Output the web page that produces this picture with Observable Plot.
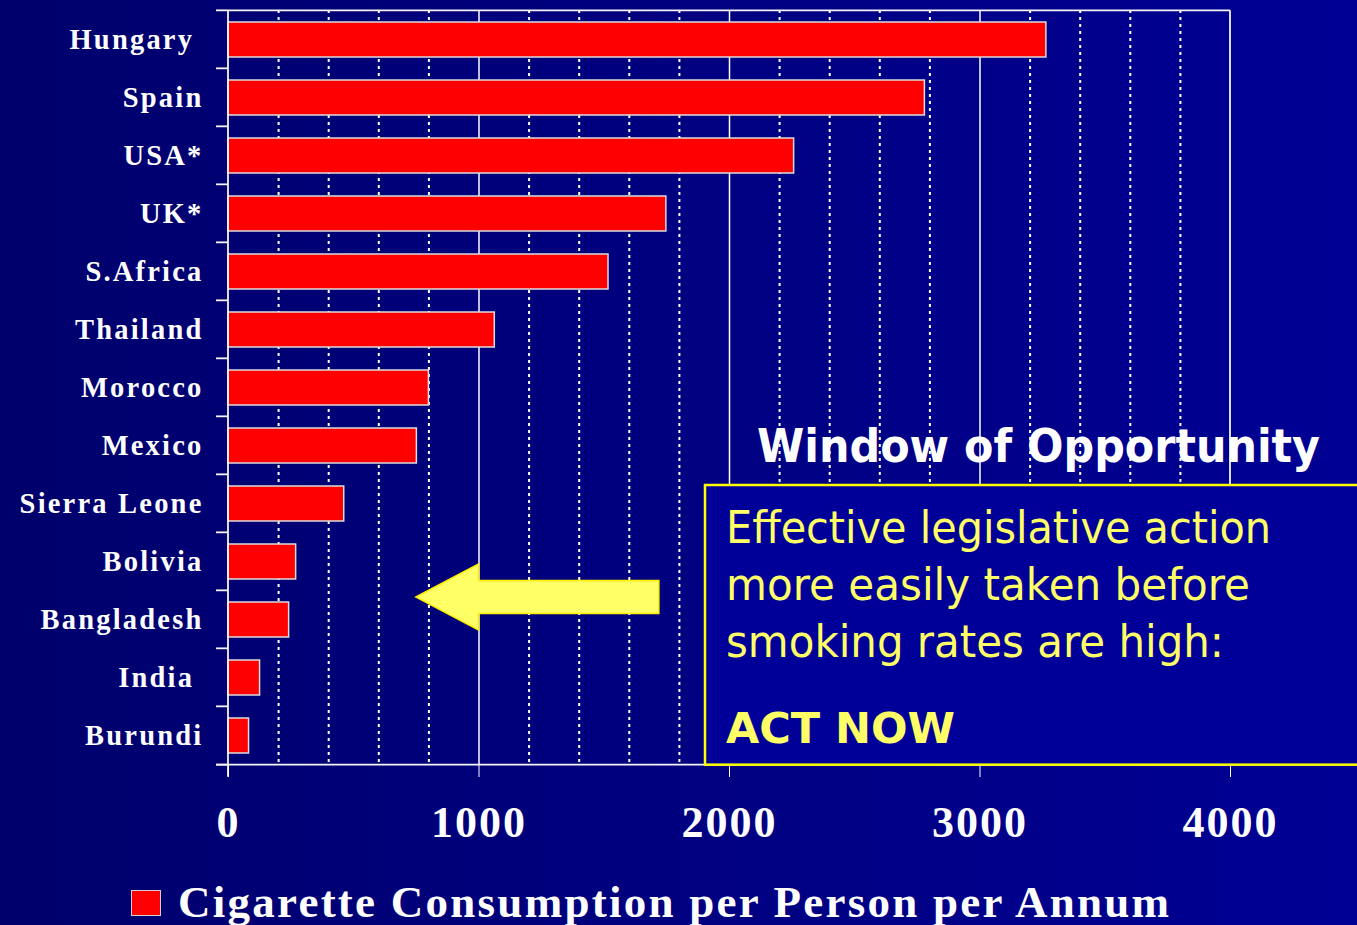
<!DOCTYPE html>
<html><head><meta charset="utf-8">
<script src="https://cdn.jsdelivr.net/npm/d3@7"></script>
<script src="https://cdn.jsdelivr.net/npm/@observablehq/plot@0.6"></script>
<style>
html,body{margin:0;padding:0;}
body{width:1357px;height:925px;overflow:hidden;background:linear-gradient(to right,#00006c,#000094);}
#chart svg{display:block;background:transparent;overflow:visible;}
#chart g[aria-label^="x-axis"] text{font-family:"Liberation Serif","Times New Roman",serif;font-weight:bold;font-size:44px;letter-spacing:2px;fill:#fff;}
#chart g[aria-label^="y-axis"] text{font-family:"Liberation Serif","Times New Roman",serif;font-weight:bold;font-size:28.5px;letter-spacing:2.2px;white-space:pre;fill:#fff;}
#legend{position:relative;height:55px;width:1357px;}
#legend .swatch{position:absolute;left:131px;top:20px;width:28px;height:24px;background:#ff0000;border:1px solid #d0d0d0;}
#legend .label{position:absolute;left:178px;top:10px;line-height:45px;font-family:"Liberation Serif","Times New Roman",serif;font-weight:bold;font-size:45px;letter-spacing:2.25px;color:#fff;white-space:nowrap;}
</style></head><body>
<div id="chart"></div>
<div id="legend"></div>
<script>
// ---- data ----
const countries = ["Hungary ", "Spain", "USA*", "UK*", "S.Africa", "Thailand", "Morocco", "Mexico", "Sierra Leone", "Bolivia", "Bangladesh", "India ", "Burundi"];
const consumption = [3265, 2780, 2258, 1748, 1517, 1063, 800, 752, 462, 270, 242, 126, 82];
const xTicks = [0, 1000, 2000, 3000, 4000];
const gridMajor = [1000, 2000, 3000];
const gridMinor = [200, 400, 600, 800, 1200, 1400, 1600, 1800, 2200, 2400, 2600, 2800, 3200, 3400, 3600, 3800];
const legendLabel = "Cigarette Consumption per Person per Annum";
const boxTitle = "Window of Opportunity";
const boxLines = ["Effective legislative action", "more easily taken before", "smoking rates are high:"];
const boxCall = "ACT NOW";
// arrow in data units along x (tip, head base, tail)
const arrowX = [750, 1000, 1720];

const table = countries.map((c, i) => ({country: c, value: consumption[i]}));

const plot = Plot.plot({
  width: 1357, height: 870,
  marginLeft: 228, marginRight: 127, marginTop: 10, marginBottom: 105,
  style: {background: "transparent", color: "white", overflow: "visible"},
  x: {domain: [0, 4000], ticks: xTicks, tickSize: 12, tickPadding: 28, tickFormat: d => String(d), label: null},
  y: {domain: countries, paddingInner: 0.4, paddingOuter: 0.2, tickSize: 0, tickPadding: 25, tickFormat: d => d, label: null},
  marks: [
    Plot.ruleX(gridMinor, {stroke: "white", strokeWidth: 2, strokeDasharray: "3,4"}),
    Plot.ruleX(gridMajor, {stroke: "white", strokeWidth: 1.5}),
    Plot.barX(table, {x: "value", y: "country", fill: "#ff0000", stroke: "#dcdcdc", strokeWidth: 1.5})
  ]
});
document.getElementById("chart").appendChild(plot);

// ---- frame, boundary ticks and annotations drawn with the plot's scales ----
const sx = plot.scale("x"), sy = plot.scale("y");
const X = v => sx.apply(v);
const bw = sy.bandwidth;
const step = bw / (1 - 0.4);
const gap = (step - bw) / 2;
const bounds = countries.map(c => sy.apply(c) - gap);
bounds.push(sy.apply(countries[countries.length - 1]) + bw + gap);
const yTop = bounds[0], yBottom = bounds[bounds.length - 1];
const xLeft = X(0), xRight = X(4000);

const svg = d3.select(plot);
const frame = svg.append("g").attr("stroke", "#f4f4f4").attr("stroke-width", 1.8).attr("fill", "none");
frame.append("line").attr("x1", xLeft).attr("x2", xLeft).attr("y1", yTop).attr("y2", yBottom + 12);
frame.append("line").attr("x1", xLeft).attr("x2", xRight).attr("y1", yTop).attr("y2", yTop);
frame.append("line").attr("x1", xRight).attr("x2", xRight).attr("y1", yTop).attr("y2", yBottom);
frame.append("line").attr("x1", xLeft - 12).attr("x2", xRight).attr("y1", yBottom).attr("y2", yBottom);
bounds.forEach(b => frame.append("line").attr("x1", xLeft - 12).attr("x2", xLeft).attr("y1", b).attr("y2", b));

// arrow
const ay = 597, headH = 33, shaftH = 16.5;
const [tip, base, tail] = arrowX.map(X);
svg.append("path")
  .attr("d", `M${tip},${ay} L${base},${ay - headH} L${base},${ay - shaftH} L${tail},${ay - shaftH} L${tail},${ay + shaftH} L${base},${ay + shaftH} L${base},${ay + headH} Z`)
  .attr("fill", "#ffff66").attr("stroke", "#ffee00").attr("stroke-width", 1.5);

const notes = svg.append("g").attr("text-anchor", "start");

// title
notes.append("text").text(boxTitle)
  .attr("x", 757).attr("y", 462)
  .attr("textLength", 563).attr("lengthAdjust", "spacingAndGlyphs")
  .attr("font-family", "'DejaVu Sans', Verdana, sans-serif").attr("font-weight", "bold").attr("font-size", 47)
  .attr("fill", "white");

// box
notes.append("rect").attr("x", 705).attr("y", 485).attr("width", 700).attr("height", yBottom - 485)
  .attr("fill", "#000099").attr("stroke", "#ffff00").attr("stroke-width", 2.5);
const widths = [545, 524, 498];
const baselines = [543, 600, 657];
boxLines.forEach((t, i) => {
  notes.append("text").text(t)
    .attr("x", 726).attr("y", baselines[i])
    .attr("textLength", widths[i]).attr("lengthAdjust", "spacingAndGlyphs")
    .attr("font-family", "'DejaVu Sans', Verdana, sans-serif").attr("font-size", 45)
    .attr("fill", "#ffff66");
});
notes.append("text").text(boxCall)
  .attr("x", 726).attr("y", 743)
  .attr("textLength", 229).attr("lengthAdjust", "spacingAndGlyphs")
  .attr("font-family", "'DejaVu Sans', Verdana, sans-serif").attr("font-weight", "bold").attr("font-size", 43)
  .attr("fill", "#ffff66");

// make sure axis labels sit on top
svg.selectAll('g[aria-label^="x-axis"]').raise();

// legend
const legend = d3.select("#legend");
legend.append("div").attr("class", "swatch");
legend.append("div").attr("class", "label").text(legendLabel);
</script>
</body></html>
